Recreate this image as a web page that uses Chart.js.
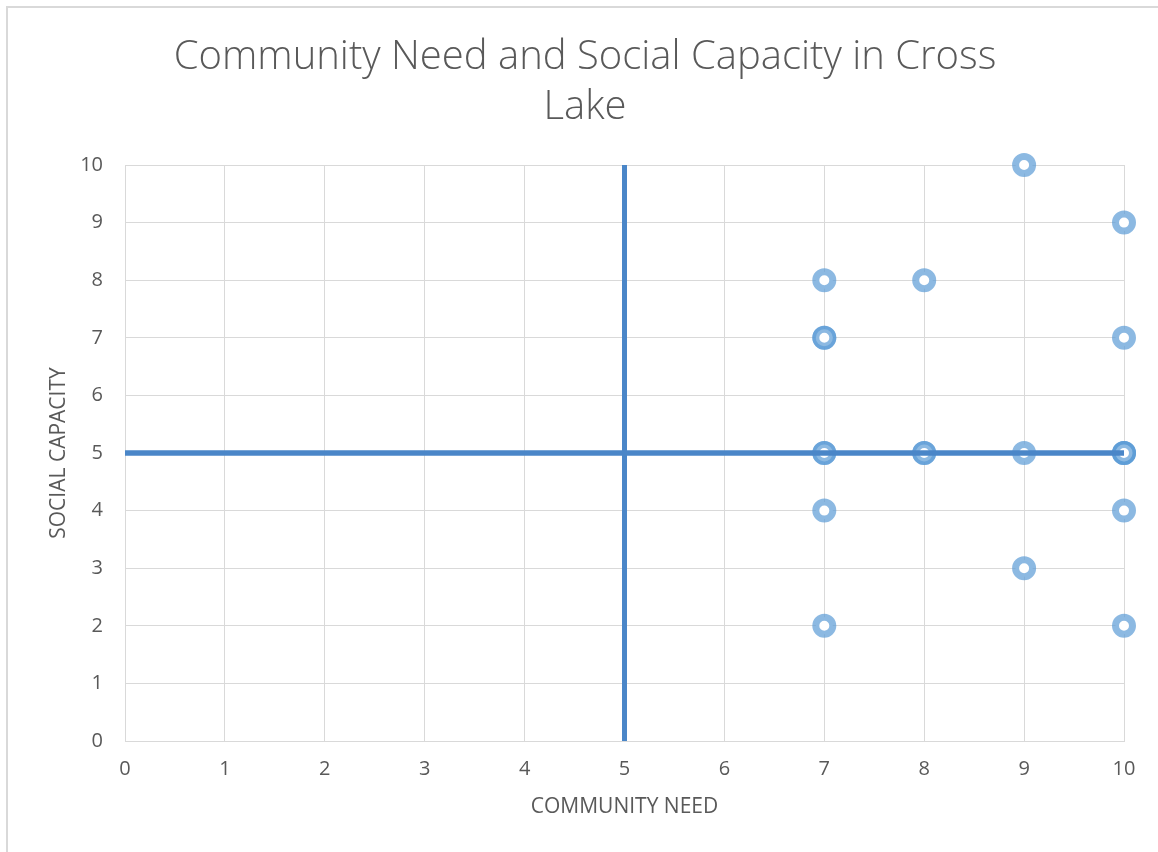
<!DOCTYPE html>
<html>
<head>
<meta charset="utf-8">
<script src="https://cdn.jsdelivr.net/npm/chart.js@4.4.0/dist/chart.umd.min.js"></script>
<style>
  html, body { margin: 0; padding: 0; background: #fff; overflow: hidden; }
  #frame {
    position: absolute; left: 6px; top: 6px; width: 1152px; height: 846px;
    border-top: 2px solid #d9d9d9; border-left: 2px solid #d9d9d9;
  }
  #wrap { position: absolute; left: 0; top: 0; width: 1158px; height: 852px; }
</style>
</head>
<body>
<div id="frame"></div>
<div id="wrap"><canvas id="chart"></canvas></div>
<script>
// survey points (duplicates kept, they show up darker)
const needScores     = [7, 8, 9, 10, 7, 7, 10, 7, 7, 8, 8, 9, 10, 10, 10, 7, 10, 9, 7, 10];
const capacityScores = [8, 8, 10, 9, 7, 7, 7, 5, 5, 5, 5, 5, 5, 5, 5, 4, 4, 3, 2, 2];

// quadrant divider lines
const dividerX = [5, 5];
const dividerXY = [0, 10];
const dividerY = [5, 5];
const dividerYX = [0, 10];

const axisTicks = [0, 1, 2, 3, 4, 5, 6, 7, 8, 9, 10];

const points = needScores.map((x, i) => ({ x, y: capacityScores[i] }));
const vLine = dividerX.map((x, i) => ({ x, y: dividerXY[i] }));
const hLine = dividerYX.map((x, i) => ({ x, y: dividerY[i] }));

const textColor = "#595959";
const gridColor = "#d9d9d9";
const fontFam = "'Open Sans', 'Liberation Sans', sans-serif";

new Chart(document.getElementById("chart"), {
  type: "scatter",
  data: {
    datasets: [
      {
        data: vLine,
        showLine: true,
        borderColor: "#4a86c8",
        borderWidth: 5,
        pointRadius: 0,
        order: 0
      },
      {
        data: hLine,
        showLine: true,
        borderColor: "#4a86c8",
        borderWidth: 5.5,
        pointRadius: 0,
        order: 0
      },
      {
        data: points,
        clip: false,
        pointRadius: 8.5,
        pointBorderWidth: 7,
        pointBackgroundColor: "#ffffff",
        pointBorderColor: "rgba(91,155,213,0.7)",
        pointHoverRadius: 8.5,
        order: 1
      }
    ]
  },
  options: {
    responsive: true,
    maintainAspectRatio: false,
    animation: false,
    layout: { padding: { left: 46, right: 34, top: 20, bottom: 0 } },
    plugins: {
      legend: { display: false },
      tooltip: { enabled: false },
      title: {
        display: true,
        text: ["Community Need and Social Capacity in Cross", "Lake"],
        color: textColor,
        font: { family: fontFam, size: 40, weight: 300, lineHeight: 1.25 },
        padding: { top: 13, bottom: 32 }
      }
    },
    scales: {
      x: {
        type: "linear",
        min: 0,
        max: 10,
        afterBuildTicks: s => { s.ticks = axisTicks.map(v => ({ value: v })); },
        afterFit: s => { s.height = 111; },
        grid: { color: gridColor, drawTicks: false },
        border: { color: gridColor },
        ticks: { color: textColor, padding: 16, font: { family: fontFam, size: 20 } },
        title: {
          display: true,
          text: "COMMUNITY NEED",
          color: textColor,
          font: { family: fontFam, size: 21 },
          padding: { top: 0, bottom: 32 }
        }
      },
      y: {
        type: "linear",
        min: 0,
        max: 10,
        afterBuildTicks: s => { s.ticks = axisTicks.map(v => ({ value: v })); },
        afterFit: s => { s.width = 79; },
        grid: { color: gridColor, drawTicks: false },
        border: { color: gridColor },
        ticks: { color: textColor, padding: 22, font: { family: fontFam, size: 20 } },
        title: {
          display: true,
          text: "SOCIAL CAPACITY",
          color: textColor,
          font: { family: fontFam, size: 21 },
          padding: { top: 0, bottom: 0 }
        }
      }
    }
  }
});
</script>
</body>
</html>
